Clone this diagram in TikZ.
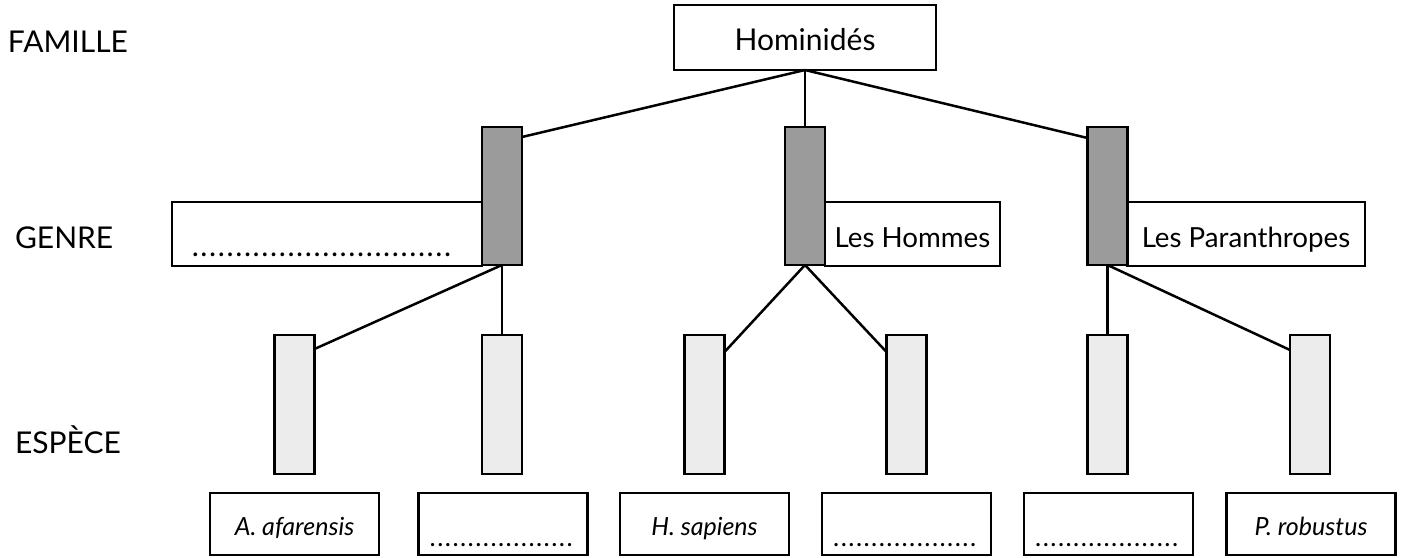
\documentclass[tikz,border=0pt]{standalone}
\usepackage{fontspec}
\setmainfont{Lato}
\definecolor{barDark}{HTML}{9B9B9B}
\definecolor{barLight}{HTML}{ECECEC}
\newcommand{\mydotrow}[2]{\hbox to #1{\leaders\hbox to #2{\hss.\hss}\hfill}}
\begin{document}
\begin{tikzpicture}[x=1pt,y=-1pt,
  every node/.style={inner sep=0pt, outer sep=0pt},
  boxframe/.style={draw, line width=2.6pt},
  famillebox/.style={boxframe, minimum width=262pt, minimum height=65pt,
     font=\fontsize{30}{34}\selectfont, text height=25pt, text depth=0pt},
  genrebar/.style={boxframe, fill=barDark, minimum width=40pt, minimum height=138pt},
  genrelabel/.style={boxframe, fill=white, minimum height=64pt,
     font=\fontsize{27.7}{32}\selectfont, text height=26pt, text depth=0pt},
  especebar/.style={boxframe, fill=barLight, minimum width=40pt, minimum height=139pt},
  especelabel/.style={boxframe, minimum width=169pt, minimum height=62pt,
     font=\fontsize{25}{29}\selectfont\itshape, text height=22pt, text depth=0pt},
  dotlabel/.style={especelabel, font=\fontsize{26}{29}\selectfont, text height=44pt},
  rank/.style={anchor=base west, font=\fontsize{30}{34}\selectfont},
  link/.style={line width=2.5pt}
]
\useasboundingbox (0,0) rectangle (1403,557);

% rank labels
\node[rank] (lfam) at (8,52) {FAMILLE};
\node[rank] (lgen) at (15,248) {GENRE};
\node[rank] (lesp) at (15,453) {ESPÈCE};

% family
\node[famillebox] (hom) at (805,37.5) {Hominidés};

% genre label boxes (behind bars)
\node[genrelabel, minimum width=310pt, text height=44pt, font=\fontsize{30}{34}\selectfont] (tA) at (327,234)
  {\mydotrow{262pt}{8.7pt}\kern10pt};
\node[genrelabel, minimum width=175pt] (tH) at (912.5,234) {Les Hommes};
\node[genrelabel, minimum width=238pt] (tP) at (1246,234) {Les Paranthropes};

% genre bars
\node[genrebar] (gA) at (502,196) {};
\node[genrebar] (gH) at (805,196) {};
\node[genrebar] (gP) at (1107.5,196) {};

% species bars
\node[especebar] (sA1) at (294.5,404.5) {};
\node[especebar] (sA2) at (502,404.5) {};
\node[especebar] (sH1) at (704.5,404.5) {};
\node[especebar] (sH2) at (906.5,404.5) {};
\node[especebar] (sP1) at (1107.5,404.5) {};
\node[especebar] (sP2) at (1310,404.5) {};

% species name boxes
\node[especelabel] (bA1) at (294.5,524) {A. afarensis};
\node[dotlabel] (bA2) at (503,524) {\mydotrow{148pt}{7.6pt}};
\node[especelabel] (bH1) at (704.5,524) {H. sapiens};
\node[dotlabel] (bH2) at (906.5,524) {\mydotrow{148pt}{7.6pt}};
\node[dotlabel] (bP1) at (1108.5,524) {\mydotrow{148pt}{7.6pt}};
\node[especelabel] (bP2) at (1311,524) {P. robustus};

% connectors
\draw[link] (hom.south) -- ([yshift=-10pt]gA.north east);
\draw[link] (hom.south) -- (gH.north);
\draw[link] (hom.south) -- ([yshift=-11pt]gP.north west);
\draw[link] (gA.south) -- ([yshift=-14pt]sA1.north east);
\draw[link] (gA.south) -- (sA2.north);
\draw[link] (gH.south) -- ([yshift=-17pt]sH1.north east);
\draw[link] (gH.south) -- ([yshift=-17pt]sH2.north west);
\draw[link] (gP.south) -- (sP1.north);
\draw[link] (gP.south) -- ([yshift=-15pt]sP2.north west);
\end{tikzpicture}
\end{document}
